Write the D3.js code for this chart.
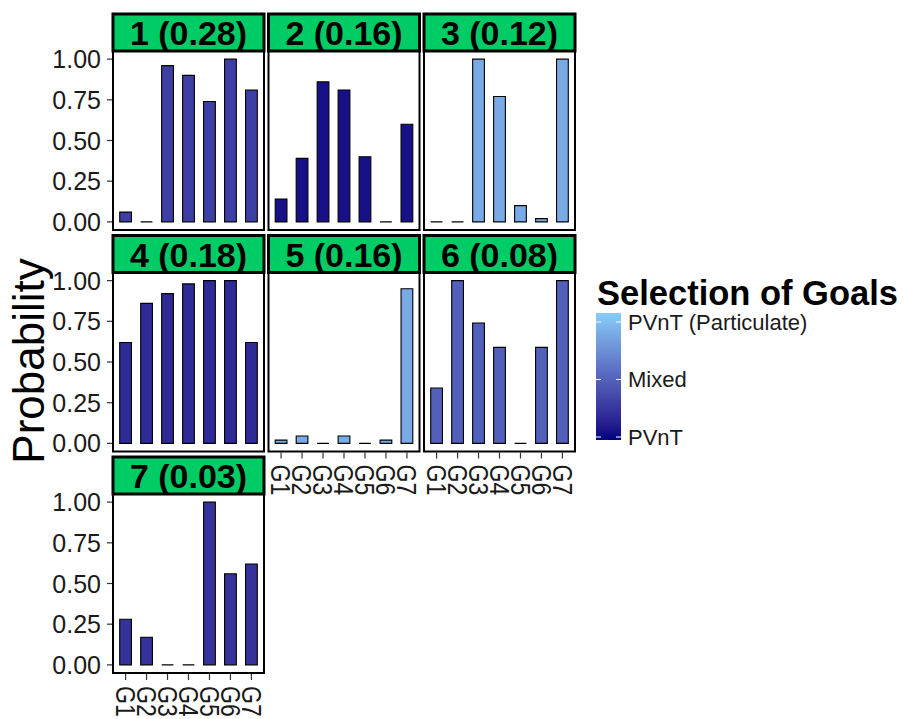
<!DOCTYPE html>
<html>
<head>
<meta charset="utf-8">
<script src="https://cdn.jsdelivr.net/npm/d3@7"></script>
<style>
  html, body { margin: 0; padding: 0; background: #ffffff; }
  svg { display: block; font-family: "Liberation Sans", Arial, sans-serif; }
</style>
</head>
<body>
<svg id="chart" width="905" height="719"></svg>
<script>
// ---------------- data ----------------
const clusterLabels = ["1 (0.28)", "2 (0.16)", "3 (0.12)", "4 (0.18)", "5 (0.16)", "6 (0.08)", "7 (0.03)"];
const goals = ["G1", "G2", "G3", "G4", "G5", "G6", "G7"];
const cluster1 = [0.06, 0.00, 0.96, 0.90, 0.74, 1.00, 0.81];
const cluster2 = [0.14, 0.39, 0.86, 0.81, 0.40, 0.00, 0.60];
const cluster3 = [0.00, 0.00, 1.00, 0.77, 0.10, 0.02, 1.00];
const cluster4 = [0.62, 0.86, 0.92, 0.98, 1.00, 1.00, 0.62];
const cluster5 = [0.02, 0.045, 0.00, 0.045, 0.00, 0.02, 0.95];
const cluster6 = [0.34, 1.00, 0.74, 0.59, 0.00, 0.59, 1.00];
const cluster7 = [0.28, 0.17, 0.00, 0.00, 1.00, 0.56, 0.62];
// goal-selection score of each cluster (0 = PVnT, 1 = PVnT (Particulate))
const goalScore = [0.30, 0.045, 0.89, 0.18, 0.89, 0.49, 0.23];
const yTicks = [0, 0.25, 0.50, 0.75, 1.00];
const legendValues = [0, 0.5, 1];
const legendLabels = ["PVnT", "Mixed", "PVnT (Particulate)"];
const legendTitle = "Selection of Goals";
const yTitle = "Probability";

const clusterValues = [cluster1, cluster2, cluster3, cluster4, cluster5, cluster6, cluster7];

// ---------------- layout ----------------
const svg = d3.select("#chart");
const colX = [113, 268.5, 424];
const rowY = [14, 235.5, 457];
const panelW = 151, stripH = 37, panelH = 179;

const legendDomain = [-0.026, 1.078];
const colorInterp = d3.interpolateLab("#000080", "#87CEFA");
const color = v => colorInterp((v - legendDomain[0]) / (legendDomain[1] - legendDomain[0]));

const xScale = d3.scalePoint().domain(goals).range([0, panelW]).padding(0.6);
const barW = xScale.step() * 0.56;

clusterValues.forEach((vals, i) => {
  const col = i % 3, row = Math.floor(i / 3);
  const x0 = colX[col];
  const sTop = rowY[row];
  const pTop = sTop + stripH, pBot = pTop + panelH;
  const y = d3.scaleLinear().domain([-0.05, 1.05]).range([pBot, pTop]);
  const g = svg.append("g");

  g.append("rect").attr("x", x0).attr("y", pTop).attr("width", panelW).attr("height", panelH)
    .attr("fill", "#ffffff");

  g.selectAll("path.bar").data(vals).enter().append("path")
    .attr("class", "bar")
    .attr("d", (v, j) => {
      const cx = x0 + xScale(goals[j]);
      const xa = cx - barW / 2, xb = cx + barW / 2;
      return `M${xa},${y(0)}V${y(v)}H${xb}V${y(0)}Z`;
    })
    .attr("fill", color(goalScore[i]))
    .attr("stroke", "#000000")
    .attr("stroke-width", 1.1);

  g.append("rect").attr("x", x0).attr("y", pTop).attr("width", panelW).attr("height", panelH)
    .attr("fill", "none").attr("stroke", "#000000").attr("stroke-width", 2);

  g.append("rect").attr("x", x0).attr("y", sTop).attr("width", panelW).attr("height", stripH)
    .attr("fill", "#00CC66").attr("stroke", "#000000").attr("stroke-width", 3);
  g.append("text").attr("x", x0 + panelW / 2).attr("y", sTop + 31)
    .attr("text-anchor", "middle").attr("font-weight", "bold").attr("font-size", 34)
    .attr("fill", "#000000").text(clusterLabels[i]);

  if (col === 0) {
    const ya = g.append("g");
    ya.selectAll("line").data(yTicks).enter().append("line")
      .attr("x1", x0 - 6).attr("x2", x0 - 1)
      .attr("y1", d => y(d)).attr("y2", d => y(d))
      .attr("stroke", "#333333").attr("stroke-width", 1.2);
    ya.selectAll("text").data(yTicks).enter().append("text")
      .attr("x", x0 - 12).attr("y", d => y(d)).attr("dy", "0.36em")
      .attr("text-anchor", "end").attr("font-size", 25).attr("fill", "#1a1a1a")
      .text(d => d3.format(".2f")(d));
  }

  if (i + 3 >= clusterValues.length) {
    const xa = g.append("g");
    xa.selectAll("line").data(goals).enter().append("line")
      .attr("x1", d => x0 + xScale(d)).attr("x2", d => x0 + xScale(d))
      .attr("y1", pBot + 1).attr("y2", pBot + 7)
      .attr("stroke", "#333333").attr("stroke-width", 1.2);
    xa.selectAll("text").data(goals).enter().append("text")
      .attr("transform", d => `translate(${x0 + xScale(d)},${pBot + 13}) rotate(90) scale(1,1.18)`)
      .attr("dy", "0.36em").attr("text-anchor", "start")
      .attr("font-size", 23).attr("fill", "#1a1a1a")
      .text(d => d);
  }
});

svg.append("text")
  .attr("transform", `translate(44,361) rotate(-90)`)
  .attr("text-anchor", "middle").attr("font-size", 44).attr("fill", "#000000")
  .text(yTitle);

// ---------------- legend ----------------
const lg = svg.append("g");
const barX = 596, barWid = 25, barTop = 313, barBot = 440;
const ly = d3.scaleLinear().domain(legendDomain).range([barBot, barTop]);

const defs = svg.append("defs");
const grad = defs.append("linearGradient").attr("id", "lgGrad")
  .attr("x1", 0).attr("x2", 0).attr("y1", 1).attr("y2", 0);
d3.range(0, 1.0001, 0.1).forEach(t => {
  grad.append("stop").attr("offset", t).attr("stop-color", colorInterp(t));
});

lg.append("text").attr("x", 597).attr("y", 305)
  .attr("font-weight", "bold").attr("font-size", 34.5).attr("fill", "#000000")
  .text(legendTitle);

lg.append("rect").attr("x", barX).attr("y", barTop).attr("width", barWid).attr("height", barBot - barTop)
  .attr("fill", "url(#lgGrad)");

lg.selectAll("line.tl").data(legendValues).enter().append("line").attr("class", "tl")
  .attr("x1", barX).attr("x2", barX + 5).attr("y1", d => ly(d)).attr("y2", d => ly(d))
  .attr("stroke", "#ffffff").attr("stroke-width", 1);
lg.selectAll("line.tr").data(legendValues).enter().append("line").attr("class", "tr")
  .attr("x1", barX + barWid - 5).attr("x2", barX + barWid).attr("y1", d => ly(d)).attr("y2", d => ly(d))
  .attr("stroke", "#ffffff").attr("stroke-width", 1);

lg.selectAll("text.ll").data(legendValues).enter().append("text").attr("class", "ll")
  .attr("x", 628).attr("y", d => ly(d)).attr("dy", "0.36em")
  .attr("font-size", 22).attr("fill", "#1a1a1a")
  .text((d, k) => legendLabels[k]);
</script>
</body>
</html>
